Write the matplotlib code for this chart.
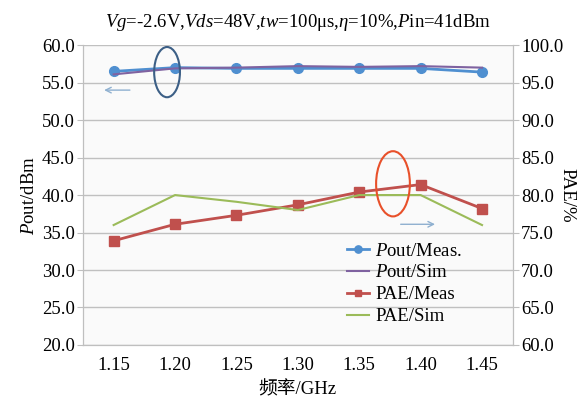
import matplotlib
matplotlib.use("Agg")
import matplotlib.pyplot as plt
from matplotlib.patches import Ellipse
import numpy as np

plt.rcParams['font.family'] = ['Liberation Serif', 'Noto Sans CJK SC']
plt.rcParams['mathtext.fontset'] = 'custom'
plt.rcParams['mathtext.rm'] = 'Liberation Serif'
plt.rcParams['mathtext.it'] = 'Liberation Serif:italic'

# data
freqs = ['1.15', '1.20', '1.25', '1.30', '1.35', '1.40', '1.45']
pout_meas = [56.5, 57.0, 56.9, 56.9, 56.9, 56.9, 56.4]
pout_sim = [56.1, 56.9, 57.0, 57.2, 57.1, 57.2, 57.0]
pae_meas = [73.9, 76.1, 77.3, 78.7, 80.4, 81.4, 78.2]
pae_sim = [76.0, 80.0, 79.1, 78.0, 80.0, 80.0, 76.0]

fs = 13.5
x = np.arange(len(freqs))

fig = plt.figure(figsize=(5.8, 4.03), dpi=100)
ax = fig.add_axes((0.143, 0.144, 0.741, 0.744))
ax2 = ax.twinx()
ax.set_facecolor('#fafafa')

ax.set_ylim(20, 60)
ax.set_yticks(np.arange(20, 61, 5))
ax.set_yticklabels(['%.1f' % v for v in np.arange(20, 61, 5)], fontsize=fs)
ax2.set_ylim(60, 100)
ax2.set_yticks(np.arange(60, 101, 5))
ax2.set_yticklabels(['%.1f' % v for v in np.arange(60, 101, 5)], fontsize=fs)
ax.set_xlim(-0.5, len(freqs) - 0.5)
ax.set_xticks(x)
ax.set_xticklabels(freqs, fontsize=fs)
ax.grid(axis='y', color='#c0c0c0', lw=1)
ax.set_axisbelow(True)

for a in (ax, ax2):
    a.spines['top'].set_visible(False)
    for s in ('left', 'right', 'bottom'):
        a.spines[s].set_color('#bfbfbf')
    a.tick_params(axis='y', length=4, color='#bfbfbf', pad=2)
ax.tick_params(axis='x', length=0, pad=9)

l1, = ax.plot(x, pout_meas, color='#4f8fd0', lw=2, marker='o', ms=7, label='$P$out/Meas.')
l2, = ax.plot(x, pout_sim, color='#7f62a0', lw=1.5, label='$P$out/Sim')
l3, = ax2.plot(x, pae_meas, color='#c0504d', lw=2, marker='s', ms=6.5, label='PAE/Meas')
l4, = ax2.plot(x, pae_sim, color='#9bbb59', lw=1.5, label='PAE/Sim')

ax.set_ylabel('$P$out/dBm', fontsize=fs, labelpad=3)
ax2.set_ylabel('PAE/%', fontsize=fs, rotation=270, labelpad=9)
ax.set_xlabel('频率/GHz', fontsize=fs, labelpad=5)
ax.set_title('$Vg$=-2.6V,$Vds$=48V,$tw$=100μs,$\\eta$=10%,$P$in=41dBm', fontsize=fs, pad=13)

leg = ax.legend(handles=[l1, l2, l3, l4], loc='lower left', bbox_to_anchor=(0.575, 0.01),
                frameon=False, fontsize=fs, handlelength=1.2, handletextpad=0.3,
                labelspacing=0.25, markerscale=0.75)

# annotations: ellipses and direction arrows
ax.add_patch(Ellipse((0.87, 56.4), 0.42, 6.7, fill=False, ec='#3c5f86', lw=1.5, zorder=5))
ax2.add_patch(Ellipse((4.55, 81.5), 0.55, 8.7, fill=False, ec='#e8502a', lw=1.5, zorder=5))
ax.annotate('', xy=(-0.2, 54.0), xytext=(0.31, 54.0),
            arrowprops=dict(arrowstyle='->', color='#8fb0d0', lw=1))
ax2.annotate('', xy=(5.28, 76.1), xytext=(4.63, 76.1),
             arrowprops=dict(arrowstyle='->', color='#8fb0d0', lw=1))

fig.savefig('out.png', dpi=100)
